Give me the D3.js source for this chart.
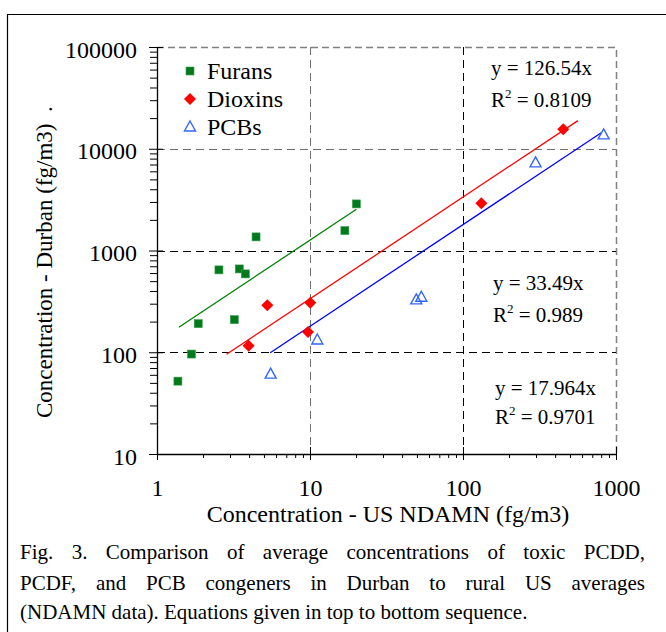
<!DOCTYPE html>
<html>
<head>
<meta charset="utf-8">
<script src="https://cdn.jsdelivr.net/npm/d3@7"></script>
<style>
  body { margin: 0; background: #fff; }
  svg { display: block; font-family: "Liberation Serif", "Times New Roman", serif; }
</style>
</head>
<body>
<svg id="chart" width="666" height="632"></svg>
<script>
// values (fg/m3)
var furansX = [1.37, 1.68, 1.86, 2.54, 3.20, 3.45, 3.78, 4.44, 16.9, 20.1];
var furansY = [52, 96, 191, 645, 209, 659, 589, 1361, 1570, 2870];
var dioxinsX = [3.97, 5.26, 9.70, 10.05, 131.8, 452];
var dioxinsY = [116, 290, 158, 307, 2918, 15590];
var pcbsX = [5.53, 11.16, 49.5, 53.4, 298, 830];
var pcbsY = [61, 132, 327, 347, 7265, 13700];

var seriesNames = ['Furans', 'Dioxins', 'PCBs'];
var slopes = [126.54, 33.49, 17.964];
var trendFrom = [1.39, 2.85, 5.5];
var trendTo = [20.1, 564, 801];
var eqText = ['y = 126.54x', 'y = 33.49x', 'y = 17.964x'];
var r2Text = ['0.8109', '0.989', '0.9701'];

var xTicks = [1, 10, 100, 1000];
var yTicks = [10, 100, 1000, 10000, 100000];
var xGrid = [10, 100];
var yGrid = [100, 1000, 10000];

var xTitle = 'Concentration - US NDAMN (fg/m3)';
var yTitle = 'Concentration - Durban (fg/m3)  .';
var caption = [
  'Fig. 3. Comparison of average concentrations of toxic PCDD,',
  'PCDF, and PCB congeners in Durban to rural US averages',
  '(NDAMN data). Equations given in top to bottom sequence.'
];

(function () {
  var svg = d3.select('#chart');
  var pLeft = 157, pTop = 47, pRight = 616, pBottom = 454;

  var x = d3.scaleLog().domain([1, 1000]).range([pLeft, pRight]);
  var y = d3.scaleLog().domain([10, 100000]).range([pBottom, pTop]);

  // frame around figure
  svg.append('path')
    .attr('d', 'M7.5,632V14.5H666')
    .attr('fill', 'none').attr('stroke', '#000').attr('stroke-width', 1.2);

  // plot top / right border
  svg.append('path')
    .attr('d', 'M' + pLeft + ',' + (pTop + 0.5) + 'H' + (pRight + 0.5) + 'V' + pBottom)
    .attr('fill', 'none').attr('stroke', '#808080').attr('stroke-width', 1.5)
    .attr('stroke-dasharray', '7,4');

  // grid
  svg.append('g').selectAll('line').data(yGrid).join('line')
    .attr('x1', pLeft).attr('x2', pRight)
    .attr('y1', d => Math.round(y(d)) + 0.5).attr('y2', d => Math.round(y(d)) + 0.5)
    .attr('stroke', d => d == 10000 ? '#707070' : '#000')
    .attr('stroke-dasharray', '8,5');
  svg.append('g').selectAll('line').data(xGrid).join('line')
    .attr('x1', d => Math.round(x(d)) + 0.5).attr('x2', d => Math.round(x(d)) + 0.5)
    .attr('y1', pTop).attr('y2', pBottom)
    .attr('stroke', d => d == 10 ? '#707070' : '#000')
    .attr('stroke-dasharray', '8,5');

  // minor ticks
  var xMinor = [], yMinor = [];
  xTicks.slice(0, -1).forEach(function (d) { for (var k = 2; k < 10; k++) xMinor.push(d * k); });
  yTicks.slice(0, -1).forEach(function (d) { for (var k = 2; k < 10; k++) yMinor.push(d * k); });

  svg.append('g').attr('transform', 'translate(0,' + pBottom + ')')
    .call(d3.axisBottom(x).tickValues(xMinor).tickSize(4).tickSizeOuter(0).tickFormat(''))
    .call(g => g.select('.domain').remove());
  svg.append('g').attr('transform', 'translate(' + pLeft + ',0)')
    .call(d3.axisLeft(y).tickValues(yMinor).tickSize(7).tickSizeOuter(0).tickFormat(''))
    .call(g => g.select('.domain').remove());

  // major axes
  var xAxis = svg.append('g').attr('transform', 'translate(0,' + pBottom + ')')
    .call(d3.axisBottom(x).tickValues(xTicks).tickSize(6).tickSizeOuter(0).tickPadding(19).tickFormat(d3.format('d')))
    .attr('font-family', null).attr('font-size', 24);
  xAxis.selectAll('.tick line').clone().attr('y2', -7);
  xAxis.selectAll('text').attr('fill', '#000');

  var yAxis = svg.append('g').attr('transform', 'translate(' + pLeft + ',0)')
    .call(d3.axisLeft(y).tickValues(yTicks).tickSize(8).tickSizeOuter(0).tickPadding(12).tickFormat(d3.format('d')))
    .attr('font-family', null).attr('font-size', 24);
  yAxis.selectAll('.tick line').clone().attr('x2', 6);
  yAxis.selectAll('text').attr('fill', '#000').attr('dy', '0.42em');

  svg.selectAll('.domain').attr('stroke', '#000').attr('stroke-width', 1.3);

  // trend lines
  var trendColors = ['#008000', '#ff0000', '#0000ff'];
  var line = d3.line().x(d => x(d[0])).y(d => y(d[1]));
  slopes.forEach(function (s, i) {
    svg.append('path')
      .attr('d', line([[trendFrom[i], s * trendFrom[i]], [trendTo[i], s * trendTo[i]]]))
      .attr('fill', 'none').attr('stroke', trendColors[i]).attr('stroke-width', 1.3);
  });

  // markers
  function drawSquare(g, cx, cy) {
    g.append('rect').attr('x', cx - 4).attr('y', cy - 4).attr('width', 8).attr('height', 8)
      .attr('fill', '#007a1c').attr('stroke', '#3d9c4e').attr('stroke-width', 0.6);
  }
  function drawDiamond(g, cx, cy) {
    g.append('path').attr('d', 'M' + cx + ',' + (cy - 6) + 'L' + (cx + 6) + ',' + cy + 'L' + cx + ',' + (cy + 6) + 'L' + (cx - 6) + ',' + cy + 'Z')
      .attr('fill', '#ff0000');
  }
  function drawTriangle(g, cx, cy) {
    g.append('path').attr('d', 'M' + cx + ',' + (cy - 6) + 'L' + (cx + 5.5) + ',' + (cy + 4) + 'L' + (cx - 5.5) + ',' + (cy + 4) + 'Z')
      .attr('fill', 'none').attr('stroke', '#3366ff').attr('stroke-width', 1.4);
  }
  var pts = svg.append('g');
  furansX.forEach((d, i) => drawSquare(pts, x(d), y(furansY[i])));
  dioxinsX.forEach((d, i) => drawDiamond(pts, x(d), y(dioxinsY[i])));
  pcbsX.forEach((d, i) => drawTriangle(pts, x(d), y(pcbsY[i])));

  // legend
  var markers = [drawSquare, drawDiamond, drawTriangle];
  var legend = svg.append('g');
  seriesNames.forEach(function (name, i) {
    var ly = 79 + i * 28;
    markers[i](legend, 190, ly - 8);
    legend.append('text').attr('x', 207).attr('y', ly).attr('font-size', 24).text(name);
  });

  // equations
  var eqX = [491, 493, 495];
  var eqY = [75, 290, 395];
  var r2Gap = [32, 32, 29];
  eqText.forEach(function (t, i) {
    var g = svg.append('g').attr('font-size', 21);
    g.append('text').attr('x', eqX[i]).attr('y', eqY[i]).text(t);
    var r = g.append('text').attr('x', eqX[i]).attr('y', eqY[i] + r2Gap[i]).text('R');
    r.append('tspan').attr('dy', -9).attr('font-size', 13).text('2');
    r.append('tspan').attr('dy', 9).text(' = ' + r2Text[i]);
  });

  // axis titles
  svg.append('text').attr('x', 388).attr('y', 522).attr('text-anchor', 'middle')
    .attr('font-size', 24).text(xTitle);
  svg.append('text').attr('transform', 'translate(52,418) rotate(-90)')
    .attr('font-size', 23).style('white-space', 'pre').text(yTitle);

  // caption, first lines justified
  var capLeft = 20, capRight = 645;
  var capY = [559, 590, 619];
  caption.forEach(function (ln, i) {
    var words = ln.split(' ');
    var t = svg.append('text').attr('y', capY[i]).attr('font-size', 21);
    if (i == caption.length - 1) { t.attr('x', capLeft).text(ln); return; }
    var spans = words.map(w => t.append('tspan').text(w));
    var widths = spans.map(s => s.node().getComputedTextLength());
    var gap = (capRight - capLeft - d3.sum(widths)) / (words.length - 1);
    var cx = capLeft;
    spans.forEach(function (s, k) { s.attr('x', cx); cx += widths[k] + gap; });
  });
})();
</script>
</body>
</html>
